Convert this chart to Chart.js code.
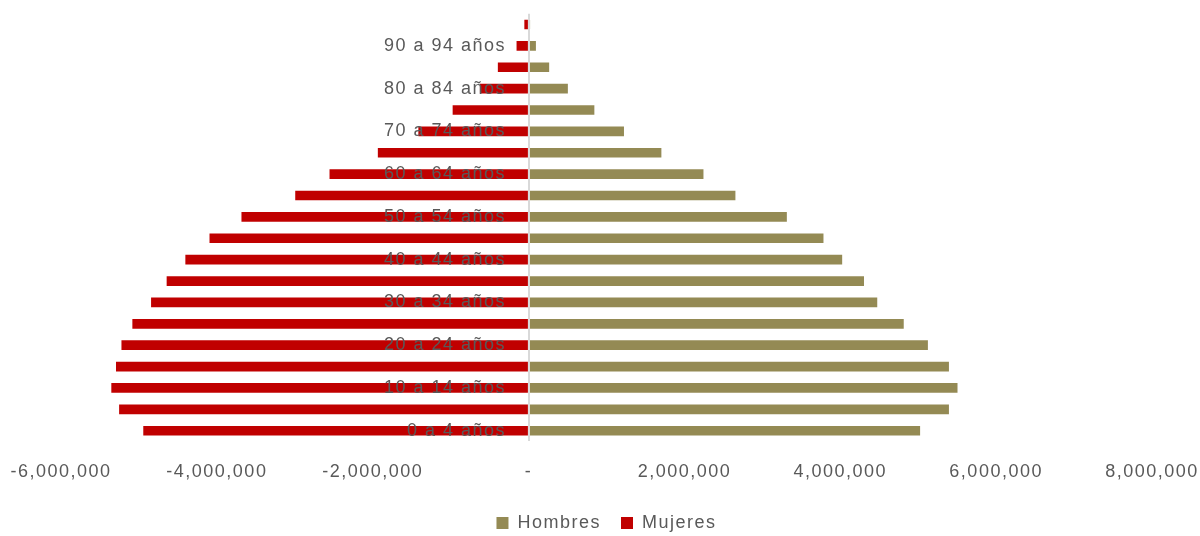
<!DOCTYPE html>
<html>
<head>
<meta charset="utf-8">
<script src="https://cdn.jsdelivr.net/npm/chart.js@4/dist/chart.umd.min.js"></script>
<style>
  html, body { margin: 0; padding: 0; background: #fff; }
  #wrap { width: 1200px; height: 536px; }
</style>
</head>
<body>
<div id="wrap"><canvas id="pyramid"></canvas></div>
<script>
// Age groups, youngest first
const ageGroups = [
  '0 a 4 años', '5 a 9 años', '10 a 14 años', '15 a 19 años', '20 a 24 años',
  '25 a 29 años', '30 a 34 años', '35 a 39 años', '40 a 44 años', '45 a 49 años',
  '50 a 54 años', '55 a 59 años', '60 a 64 años', '65 a 69 años', '70 a 74 años',
  '75 a 79 años', '80 a 84 años', '85 a 89 años', '90 a 94 años', '95 años y más'
];

const hombres = [
  5020000, 5390000, 5500000, 5390000, 5120000,
  4810000, 4470000, 4300000, 4020000, 3780000,
  3310000, 2650000, 2240000, 1700000, 1220000,
  840000, 500000, 260000, 90000, 15000
];

// women plotted to the left of zero
const mujeres = [
  -4940000, -5250000, -5350000, -5290000, -5220000,
  -5080000, -4840000, -4640000, -4400000, -4090000,
  -3680000, -2990000, -2550000, -1930000, -1410000,
  -970000, -620000, -390000, -150000, -50000
];

const xTicks = [-6000000, -4000000, -2000000, 0, 2000000, 4000000, 6000000, 8000000];

const grey = '#595959';
const fontFamily = '"Liberation Sans", Arial, sans-serif';

// wider letter spacing for all canvas text
const spacing = {
  id: 'spacing',
  beforeLayout(chart) { chart.ctx.letterSpacing = '1.5px'; },
  beforeDraw(chart) { chart.ctx.letterSpacing = '1.5px'; }
};

const ctx = document.getElementById('pyramid').getContext('2d');
const chart = new Chart(ctx, {
  type: 'bar',
  data: {
    labels: ageGroups,
    datasets: [
      { label: 'Hombres', data: hombres, backgroundColor: '#948A54', barThickness: 9 },
      { label: 'Mujeres', data: mujeres, backgroundColor: '#C00000', barThickness: 9 }
    ]
  },
  plugins: [spacing],
  options: {
    indexAxis: 'y',
    responsive: true,
    maintainAspectRatio: false,
    animation: false,
    layout: { padding: { top: 12, left: 61, right: 48, bottom: -6 } },
    scales: {
      x: {
        min: -6000000,
        max: 8000000,
        afterBuildTicks: axis => { axis.ticks = xTicks.map(v => ({ value: v })); },
        // let the layout padding set the sides, pull the legend closer
        afterFit: axis => {
          axis.height -= 9;
          axis.paddingLeft = 0;
          axis.paddingRight = 0;
        },
        grid: {
          z: 1,
          drawTicks: false,
          lineWidth: 2,
          color: c => c.tick && c.tick.value === 0 ? '#D9D9D9' : 'rgba(0,0,0,0)'
        },
        border: { display: false },
        ticks: {
          color: grey,
          padding: 20,
          maxRotation: 0,
          font: { family: fontFamily, size: 18 },
          callback: v => v === 0 ? '-' : Number(v).toLocaleString('en-US')
        }
      },
      y: {
        stacked: true,
        reverse: true,
        position: { x: -290000 },
        grid: { display: false, drawTicks: false },
        border: { display: false },
        ticks: {
          z: 1,
          autoSkip: false,
          color: grey,
          font: { family: fontFamily, size: 18 },
          callback: (v, i) => i % 2 === 0 ? ageGroups[i] : ''
        }
      }
    },
    plugins: {
      legend: {
        position: 'bottom',
        labels: {
          color: grey,
          boxWidth: 12,
          boxHeight: 12,
          padding: 20,
          font: { family: fontFamily, size: 18 }
        }
      },
      tooltip: { enabled: false }
    }
  }
});
</script>
</body>
</html>
